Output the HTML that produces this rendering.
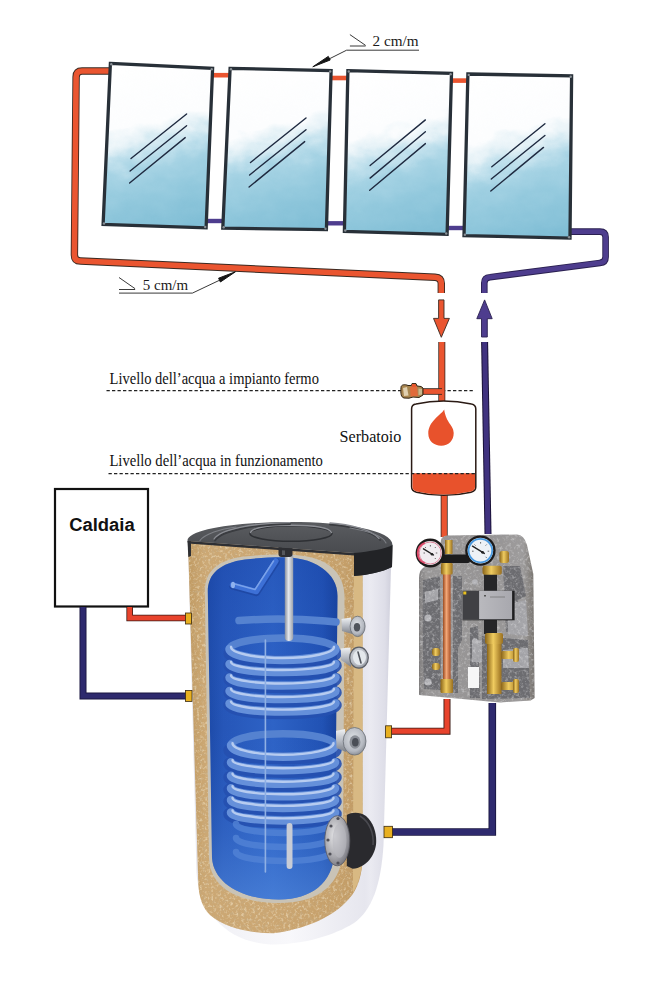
<!DOCTYPE html>
<html><head><meta charset="utf-8"><title>Impianto solare</title>
<style>
html,body{margin:0;padding:0;background:#fff;width:647px;height:1000px;overflow:hidden}
svg{display:block}
text{font-family:"Liberation Serif",serif}
</style></head>
<body>
<svg width="647" height="1000" viewBox="0 0 647 1000">
<defs>
  <linearGradient id="glass" x1="0.5" y1="0" x2="0.683" y2="0.965">
    <stop offset="0" stop-color="#ffffff"/>
    <stop offset="0.36" stop-color="#fcfdfe"/>
    <stop offset="0.44" stop-color="#e6f2f7"/>
    <stop offset="0.52" stop-color="#c2e1ed"/>
    <stop offset="0.6" stop-color="#a6d3e4"/>
    <stop offset="0.75" stop-color="#93c9dd"/>
    <stop offset="1" stop-color="#7dbcd4"/>
  </linearGradient>
</defs>
<rect width="647" height="1000" fill="#fff"/>

<!-- ===== COLLECTOR LOOP PIPES ===== -->
<g fill="none" stroke-linecap="butt" stroke-linejoin="round">
  <!-- orange supply loop -->
  <path d="M110,71 L82,71 Q76.2,71 76.1,77 L74.4,255 Q74.4,261 80.5,261 L435,277.2 Q441.3,277.5 441.3,283.5 L441.3,293" stroke="#3a2a22" stroke-width="7.4"/>
  <path d="M110,71 L82,71 Q76.2,71 76.1,77 L74.4,255 Q74.4,261 80.5,261 L435,277.2 Q441.3,277.5 441.3,283.5 L441.3,293" stroke="#ea5530" stroke-width="5.6"/>
  <!-- purple return -->
  <path d="M570,231.6 L600,231.6 Q605.6,231.6 605.6,237 L605.6,257 Q605.6,262.5 600,262.9 L490,277.2 Q484.3,277.6 484.3,283 L484.3,293" stroke="#2a2050" stroke-width="6.6"/>
  <path d="M570,231.6 L600,231.6 Q605.6,231.6 605.6,237 L605.6,257 Q605.6,262.5 600,262.9 L490,277.2 Q484.3,277.6 484.3,283 L484.3,293" stroke="#4e3d8e" stroke-width="4.8"/>
  <!-- panel connectors -->
  <g stroke="#ea5530" stroke-width="4.6">
    <path d="M212,75.2 L231,75.2"/><path d="M330,78 L350,78"/><path d="M451,80.6 L469,80.6"/>
  </g>
  <g stroke="#4e3d8e" stroke-width="4.4">
    <path d="M205,221 L224,221"/><path d="M326,223.3 L345,223.3"/><path d="M446,228 L465,228"/>
  </g>
</g>

<!-- ===== COLLECTOR PANELS ===== -->
<defs>
  <filter id="cloud" x="-10%" y="-10%" width="120%" height="120%">
    <feTurbulence type="fractalNoise" baseFrequency="0.045 0.07" numOctaves="3" seed="5" result="t"/>
    <feDisplacementMap in="SourceGraphic" in2="t" scale="22" xChannelSelector="R" yChannelSelector="G"/>
  </filter>
  <clipPath id="cp0"><path d="M110.4,63.4 L212.6,68.4 L206.1,227.9 L103.1,224.4 Z"/></clipPath>
  <clipPath id="cp1"><path d="M230.1,68.4 L331.1,70.6 L326.4,229.7 L222.8,228.2 Z"/></clipPath>
  <clipPath id="cp2"><path d="M347.9,70.6 L451.5,73.4 L447.1,234.4 L344.4,231.4 Z"/></clipPath>
  <clipPath id="cp3"><path d="M467.9,74.0 L571.6,75.9 L570.0,238.1 L464.0,235.6 Z"/></clipPath>
</defs>
<g id="panels">
<g clip-path="url(#cp0)"><rect x="88.1" y="48.4" width="139.5" height="194.5" fill="url(#glass)" filter="url(#cloud)"/></g>
<g clip-path="url(#cp1)"><rect x="207.8" y="53.4" width="138.3" height="191.3" fill="url(#glass)" filter="url(#cloud)"/></g>
<g clip-path="url(#cp2)"><rect x="329.4" y="55.6" width="137.1" height="193.8" fill="url(#glass)" filter="url(#cloud)"/></g>
<g clip-path="url(#cp3)"><rect x="449.0" y="59.0" width="137.6" height="194.1" fill="url(#glass)" filter="url(#cloud)"/></g>
</g>
<g stroke="#283038" stroke-width="3.3" stroke-linejoin="miter" fill="none">
  <path d="M110.4,63.4 L212.6,68.4 L206.1,227.9 L103.1,224.4 Z"/>
  <path d="M230.1,68.4 L331.1,70.6 L326.4,229.7 L222.8,228.2 Z"/>
  <path d="M347.9,70.6 L451.5,73.4 L447.1,234.4 L344.4,231.4 Z"/>
  <path d="M467.9,74.0 L571.6,75.9 L570.0,238.1 L464.0,235.6 Z"/>
</g>
<g fill="#8a9096"><circle cx="111.3" cy="64.3" r="1.2"/><circle cx="211.7" cy="69.3" r="1.2"/><circle cx="205.2" cy="227.0" r="1.2"/><circle cx="104.0" cy="223.5" r="1.2"/><circle cx="231.0" cy="69.3" r="1.2"/><circle cx="330.2" cy="71.5" r="1.2"/><circle cx="325.5" cy="228.8" r="1.2"/><circle cx="223.7" cy="227.3" r="1.2"/><circle cx="348.8" cy="71.5" r="1.2"/><circle cx="450.6" cy="74.3" r="1.2"/><circle cx="446.2" cy="233.5" r="1.2"/><circle cx="345.3" cy="230.5" r="1.2"/><circle cx="468.8" cy="74.9" r="1.2"/><circle cx="570.7" cy="76.8" r="1.2"/><circle cx="569.1" cy="237.2" r="1.2"/><circle cx="464.9" cy="234.7" r="1.2"/></g>
<g stroke="#1f2a40" stroke-width="1.4" stroke-linecap="round">
  <path d="M131,158.5 L186.6,114 M130.1,171 L186.6,125.7 M129.6,183 L185.2,137.6"/>
  <path d="M250.5,162.5 L306,118 M249.6,175 L306,129.7 M249.1,187 L304.7,141.6"/>
  <path d="M370.1,165.5 L425.4,119.9 M370.1,178.1 L425.4,131.7 M369.7,190.2 L425.4,143.6"/>
  <path d="M491.8,166.8 L544.9,123.8 M491.3,179 L544.9,135.5 M490.8,191 L543.5,147.4"/>
</g>

<!-- ===== SLOPE LABELS ===== -->
<g stroke="#222" stroke-width="0.9" fill="none">
  <path d="M349.9,34.6 L365.6,45.4 M349.9,46 L365.6,46"/>
  <path d="M346.6,50.2 L419,50.2"/>
  <path d="M346.6,50.2 L328,59.5"/>
  <path d="M119,277.5 L135.1,288.7 M119,289.5 L135.1,289.5"/>
  <path d="M119,293.1 L192.4,293.1 L220,280"/>
</g>
<path d="M312.8,66.8 L328.3,56.4 L330.2,60 Z" fill="#151515" stroke="#151515" stroke-width="1" stroke-linejoin="round"/>
<path d="M235.4,271.8 L218.6,278.2 L220.4,282 Z" fill="#151515" stroke="#151515" stroke-width="1" stroke-linejoin="round"/>
<text x="372.6" y="45.7" font-size="15.5" fill="#1a1a1a" textLength="46" lengthAdjust="spacingAndGlyphs">2 cm/m</text>
<text x="142.8" y="289.7" font-size="15" fill="#1a1a1a" textLength="45.3" lengthAdjust="spacingAndGlyphs">5 cm/m</text>

<!-- ===== FLOW ARROWS ===== -->
<g stroke="#3a2a22" stroke-width="0.9" stroke-linejoin="round">
  <path d="M438.6,299.9 L444,299.9 L444,318.4 L449.4,318.4 L441.3,337.3 L433.5,318.4 L438.6,318.4 Z" fill="#ea5530"/>
  <path d="M484.6,299.9 L492.2,318.7 L487.3,318.7 L487.3,337 L481.5,337 L481.5,318.7 L476.8,318.7 Z" fill="#4e3d8e" stroke="#2a2050"/>
</g>

<g stroke="#222" stroke-width="1.4" stroke-dasharray="3.3,2.2" fill="none">
  <path d="M106.5,390.6 L475,390.6"/>
</g>
<!-- ===== VERTICAL PIPES TO SERBATOIO / PUMP ===== -->
<g fill="none">
  <path d="M441.8,342 L441.8,402 M444.2,494 L444.2,537" stroke="#3a2a22" stroke-width="7"/>
  <path d="M441.8,342 L441.8,402 M444.2,494 L444.2,537" stroke="#ea5530" stroke-width="5.4"/>
  <path d="M484.6,342 L488,534" stroke="#1a1238" stroke-width="7"/>
  <path d="M484.6,342 L488,534" stroke="#40327f" stroke-width="5"/>
  <!-- side branch to valve -->
  <path d="M420,391.5 L442,391.5" stroke="#3a2a22" stroke-width="6.6"/>
  <path d="M420,391.5 L442,391.5" stroke="#ea5530" stroke-width="4.8"/>
</g>
<!-- valve fitting -->
<g>
  <path d="M401,387.5 C401,384.5 405,384 408,385.5 L411.5,385.5 L412,383.6 L416,383.6 L417,386 L421,386.5 L423,388 L423,395 L419,397.5 L413,397 L409,398.2 L404,398 C401,397 400.5,394 401,387.5 Z" fill="#a88650" stroke="#2e2010" stroke-width="1"/>
  <path d="M403,388 L407,387 L408.5,395.5 L404,396 Z" fill="#e0d0b0"/>
  <path d="M410,387 L417,386.5 L418,396 L410.5,396.5 Z" fill="#e06a3a"/>
  <path d="M412,384 L415.5,384 L416.5,387 L411.5,387 Z" fill="#e8552c"/>
  <path d="M418.5,388.5 L422,389 L422,394.5 L418.5,395 Z" fill="#c8b890"/>
</g>
<!-- ===== LEVEL TEXT + DASHED LINES ===== -->
<g fill="#111" font-size="16.5">
  <text x="109.6" y="384" textLength="209.3" lengthAdjust="spacingAndGlyphs">Livello dell’acqua a impianto fermo</text>
  <text x="109.4" y="466" textLength="213.5" lengthAdjust="spacingAndGlyphs">Livello dell’acqua in funzionamento</text>
  <text x="339.6" y="442.3" textLength="61.8" lengthAdjust="spacingAndGlyphs">Serbatoio</text>
</g>

<!-- ===== SERBATOIO (expansion tank) ===== -->
<g>
  <path d="M411.6,409 Q411.6,404.6 416,404 Q443.5,398 471.5,404 Q475.8,404.8 475.8,409 L475.8,487 Q475.8,491 471,492.2 Q443.5,498.5 416.5,492.2 Q411.6,491 411.6,487 Z" fill="#fff" stroke="#2a1a14" stroke-width="1.5"/>
  <path d="M412.5,473.2 L475,473.2 L475,487 Q475,490.4 470.8,491.4 Q443.5,497.6 416.7,491.4 Q412.5,490.4 412.5,487 Z" fill="#e8522c"/>
  <path d="M444.2,409.4 C441,415 428.3,421 428.3,433.5 C428.3,441 434,445.7 441.2,445.7 C448.6,445.7 453.7,440.5 453.7,433 C453.7,425 446,423 444.2,409.4 Z" fill="#e8522c"/>
</g>
<g stroke="#222" stroke-width="1.4" stroke-dasharray="3.3,2.2" fill="none">
  <path d="M108.5,473.6 L476,473.6"/>
</g>

<!-- ===== STORAGE TANK ===== -->
<defs>
  <linearGradient id="shell" x1="188" y1="0" x2="391" y2="0" gradientUnits="userSpaceOnUse">
    <stop offset="0" stop-color="#dcdce4"/>
    <stop offset="0.08" stop-color="#f0f0f5"/>
    <stop offset="0.5" stop-color="#f8f8fb"/>
    <stop offset="0.87" stop-color="#e6e6ee"/>
    <stop offset="0.9" stop-color="#eaeaf1"/>
    <stop offset="0.97" stop-color="#dedee8"/>
    <stop offset="1" stop-color="#d0d0dc"/>
  </linearGradient>
  <linearGradient id="blue" x1="208" y1="0" x2="338" y2="0" gradientUnits="userSpaceOnUse">
    <stop offset="0" stop-color="#1d4aa8"/>
    <stop offset="0.12" stop-color="#2656b8"/>
    <stop offset="0.5" stop-color="#2e63c6"/>
    <stop offset="0.88" stop-color="#2152b4"/>
    <stop offset="1" stop-color="#17409a"/>
  </linearGradient>
  <linearGradient id="bluev" x1="0" y1="558" x2="0" y2="900" gradientUnits="userSpaceOnUse">
    <stop offset="0" stop-color="#1a44a8" stop-opacity="0.35"/>
    <stop offset="0.5" stop-color="#2a60c8" stop-opacity="0"/>
    <stop offset="0.8" stop-color="#4a84dc" stop-opacity="0.25"/>
    <stop offset="1" stop-color="#5a92e2" stop-opacity="0.55"/>
  </linearGradient>
  <linearGradient id="tan" x1="188" y1="0" x2="362" y2="0" gradientUnits="userSpaceOnUse">
    <stop offset="0" stop-color="#c09a62"/>
    <stop offset="0.1" stop-color="#cca874"/>
    <stop offset="0.5" stop-color="#cba672"/>
    <stop offset="0.85" stop-color="#c6a06a"/>
    <stop offset="1" stop-color="#c09a64"/>
  </linearGradient>
  <filter id="speck" x="0" y="0" width="100%" height="100%">
    <feTurbulence type="fractalNoise" baseFrequency="0.32" numOctaves="3" seed="4" result="n"/>
    <feColorMatrix in="n" type="matrix" values="0 0 0 0 0.55  0 0 0 0 0.42  0 0 0 0 0.25  3.2 0 0 0 -1.6" result="c"/>
    <feComposite in="c" in2="SourceGraphic" operator="in"/>
  </filter>
  <filter id="speck2" x="0" y="0" width="100%" height="100%">
    <feTurbulence type="fractalNoise" baseFrequency="0.36" numOctaves="3" seed="9" result="n"/>
    <feColorMatrix in="n" type="matrix" values="0 0 0 0 0.92  0 0 0 0 0.82  0 0 0 0 0.62  3.2 0 0 0 -1.6" result="c"/>
    <feComposite in="c" in2="SourceGraphic" operator="in"/>
  </filter>
  <filter id="speckg" x="0" y="0" width="100%" height="100%">
    <feTurbulence type="fractalNoise" baseFrequency="0.3" numOctaves="3" seed="2" result="n"/>
    <feColorMatrix in="n" type="matrix" values="0 0 0 0 0.3  0 0 0 0 0.3  0 0 0 0 0.32  3 0 0 0 -1.5" result="c"/>
    <feComposite in="c" in2="SourceGraphic" operator="in"/>
  </filter>
  <filter id="speckw" x="0" y="0" width="100%" height="100%">
    <feTurbulence type="fractalNoise" baseFrequency="0.34" numOctaves="3" seed="7" result="n"/>
    <feColorMatrix in="n" type="matrix" values="0 0 0 0 0.85  0 0 0 0 0.85  0 0 0 0 0.86  3 0 0 0 -1.5" result="c"/>
    <feComposite in="c" in2="SourceGraphic" operator="in"/>
  </filter>
  <linearGradient id="rod" x1="0" y1="0" x2="1" y2="0">
    <stop offset="0" stop-color="#8a909c"/>
    <stop offset="0.45" stop-color="#e4e8ee"/>
    <stop offset="1" stop-color="#9aa0aa"/>
  </linearGradient>
  <linearGradient id="lid" x1="0" y1="0" x2="0" y2="1">
    <stop offset="0" stop-color="#5a5c60"/>
    <stop offset="1" stop-color="#3c3e42"/>
  </linearGradient>
  <radialGradient id="fit" cx="0.4" cy="0.4" r="0.7">
    <stop offset="0" stop-color="#e8e8ea"/>
    <stop offset="0.6" stop-color="#a8a8ae"/>
    <stop offset="1" stop-color="#6a6a72"/>
  </radialGradient>
  <linearGradient id="copper" x1="0" y1="0" x2="1" y2="0">
    <stop offset="0" stop-color="#9a4a20"/>
    <stop offset="0.45" stop-color="#f4a878"/>
    <stop offset="1" stop-color="#a85028"/>
  </linearGradient>
  <linearGradient id="brass" x1="0" y1="0" x2="1" y2="0">
    <stop offset="0" stop-color="#8a6418"/>
    <stop offset="0.45" stop-color="#f0cc60"/>
    <stop offset="1" stop-color="#9a7020"/>
  </linearGradient>
</defs>
<g id="tank">
  <!-- outer shell -->
  <path d="M188,541 L196.5,872 C198,905 220,933 250,941 C262,944 268,944.5 275,944.5 C305,944 335,935 354,923 C372,910 381,885 383.5,845 L391.5,548 Z" fill="url(#shell)"/>
  <!-- foam cut face -->
  <path d="M188,541 L354,553 L362.5,576 L362.5,862 C361,880 356,893 345,903 C330,918 305,929 273.4,933.3 C250,933 225,928 210,915 C203,908 199,898 198.3,884 Z" fill="url(#tan)"/>
  <path d="M188,541 L354,553 L362.5,576 L362.5,862 C361,880 356,893 345,903 C330,918 305,929 273.4,933.3 C250,933 225,928 210,915 C203,908 199,898 198.3,884 Z" fill="#000" filter="url(#speck)" opacity="0.55"/>
  <path d="M188,541 L354,553 L362.5,576 L362.5,862 C361,880 356,893 345,903 C330,918 305,929 273.4,933.3 C250,933 225,928 210,915 C203,908 199,898 198.3,884 Z" fill="#000" filter="url(#speck2)" opacity="0.5"/>
  <path d="M354,556 L362.5,576 L362.5,862 C361,874 358,884 353,893 L353,870 Z" fill="#d8b983"/>
  <!-- inner steel wall -->
  <path d="M204.8,592 C204.6,571 218,560 244,556.6 C258,555 270,554.6 282,554.6 C300,554.6 318,557 330,566 C341,574 344.5,586 344.5,598 L343,850 C341,890 312,903 280,903 C242,903 210,890 209,858 Z" fill="#c9c3b6"/>
  <!-- blue interior -->
  <path d="M207.8,592 C207.6,574 220,563 245,559.6 C258,558 270,557.3 282,557.3 C296,557.3 310,559.5 322,568 C332,575 337.5,584 337.5,596 L335,850 C333,885 310,899 280,899.5 C245,900 214,885 212,858 Z" fill="url(#blue)"/>
  <path d="M207.8,592 C207.6,574 220,563 245,559.6 C258,558 270,557.3 282,557.3 C296,557.3 310,559.5 322,568 C332,575 337.5,584 337.5,596 L335,850 C333,885 310,899 280,899.5 C245,900 214,885 212,858 Z" fill="url(#bluev)"/>
  <!-- coils -->
  <g fill="none" stroke-linecap="round">
    <g stroke="#2550b0" stroke-width="12.5" opacity="0.9">
      <path d="M229.5,653.5 A53.0,8.0 0 0 0 335.5,653.5"/>
      <path d="M229.5,665.5 A53.0,8.0 0 0 0 335.5,665.5"/>
      <path d="M229.5,679.0 A53.0,8.0 0 0 0 335.5,679.0"/>
      <path d="M229.5,692.5 A53.0,8.0 0 0 0 335.5,692.5"/>
      <path d="M229.5,705.1 A53.0,8.0 0 0 0 335.5,705.1"/>
      <path d="M229.5,750.2 A53.0,8.0 0 0 0 335.5,750.2"/>
      <path d="M229.5,763.7 A53.0,8.0 0 0 0 335.5,763.7"/>
      <path d="M229.5,777.2 A53.0,8.0 0 0 0 335.5,777.2"/>
      <path d="M229.5,789.8 A53.0,8.0 0 0 0 335.5,789.8"/>
      <path d="M229.5,801.4 A53.0,8.0 0 0 0 335.5,801.4"/>
      <path d="M229.5,813.9 A53.0,8.0 0 0 0 335.5,813.9"/>
    </g>
    <g stroke="#5582d0" stroke-width="7.5">
      <path d="M239,620.6 C270,618 310,619 336,622"/>
      <path d="M229.5,649.0 A53.0,11.0 0 0 1 335.5,649.0"/>
      <path d="M231,745.2 A52.0,11.5 0 0 1 335,745.2"/>
    </g>
    <g stroke="#6590da" stroke-width="8.5">
      <path d="M229.5,649.0 A53.0,11.0 0 0 0 335.5,649.0"/>
      <path d="M229.5,664.0 A53.0,8.0 0 0 0 335.5,664.0"/>
      <path d="M229.5,677.5 A53.0,8.0 0 0 0 335.5,677.5"/>
      <path d="M229.5,691.0 A53.0,8.0 0 0 0 335.5,691.0"/>
      <path d="M229.5,703.6 A53.0,8.0 0 0 0 335.5,703.6"/>
      <path d="M231,745.2 A52.0,11.5 0 0 0 335,745.2"/>
      <path d="M231,762.2 A52.0,8.0 0 0 0 335,762.2"/>
      <path d="M231,775.7 A52.0,8.0 0 0 0 335,775.7"/>
      <path d="M231,788.3 A52.0,8.0 0 0 0 335,788.3"/>
      <path d="M231,799.9 A52.0,8.0 0 0 0 335,799.9"/>
      <path d="M231,812.4 A52.0,8.0 0 0 0 335,812.4"/>
    </g>
    <g stroke="#5283d6" stroke-width="6.5" opacity="0.8">
      <path d="M236,824.0 A47.5,9.0 0 0 0 331,824.0"/>
      <path d="M236,838.0 A47.5,9.0 0 0 0 331,838.0"/>
      <path d="M236,852.0 A47.5,9.0 0 0 0 331,852.0"/>
    </g>
    <g stroke="#bcd0f2" stroke-width="2.4" opacity="0.95">
      <path d="M231,647.0 A51.5,11.0 0 0 0 334,647.0"/>
      <path d="M231,662.0 A51.5,8.0 0 0 0 334,662.0"/>
      <path d="M231,675.5 A51.5,8.0 0 0 0 334,675.5"/>
      <path d="M231,689.0 A51.5,8.0 0 0 0 334,689.0"/>
      <path d="M231,701.6 A51.5,8.0 0 0 0 334,701.6"/>
      <path d="M232.5,743.2 A50.5,11.5 0 0 0 333.5,743.2"/>
      <path d="M232.5,760.2 A50.5,8.0 0 0 0 333.5,760.2"/>
      <path d="M232.5,773.7 A50.5,8.0 0 0 0 333.5,773.7"/>
      <path d="M232.5,786.3 A50.5,8.0 0 0 0 333.5,786.3"/>
      <path d="M232.5,797.9 A50.5,8.0 0 0 0 333.5,797.9"/>
      <path d="M232.5,810.4 A50.5,8.0 0 0 0 333.5,810.4"/>
    </g>
    <path d="M265.4,640 L265.4,872" stroke="#8fb0e4" stroke-width="1.6"/>
    <path d="M233,586 L256.3,592.5 L276,562" stroke="#1a3f98" stroke-width="7.5" stroke-linejoin="round" opacity="0.6"/><path d="M232.5,585 L256.3,591.5 L275.8,561" stroke="#3d70d6" stroke-width="5.6" stroke-linejoin="round"/>
    <path d="M233,583.5 L255,589.5 L273.5,561" stroke="#7aa2ea" stroke-width="1.6" stroke-linejoin="round"/><ellipse cx="233" cy="585" rx="2" ry="3.2" fill="#8fb2ee"/>
  </g>
  <!-- anode rods -->
  <rect x="284.8" y="553" width="8.4" height="88" rx="4" fill="url(#rod)"/>
  <rect x="278.5" y="544" width="14" height="13" rx="3" fill="#2e2e32"/><rect x="282" y="546" width="3" height="9" fill="#55575c"/>
  <rect x="286.6" y="823" width="5.9" height="46" rx="2.9" fill="#c8ccd6"/>
  <!-- lid -->
  <path d="M187.5,541 C187,529 240,522 290,522 C345,522 392.5,530 392.5,545 L392,567 C382,572 368,575 354,576 L354,553 Z" fill="url(#lid)"/>
  <path d="M354,553 C370,551.5 385,549 392.5,545 L392,567 C382,572 368,575 354,576 Z" fill="#222326"/>
  <path d="M187.5,541 L354,553 L354,555.5 L188,543.5 Z" fill="#2e2f33"/><path d="M187.5,541 L191,541.3 L191,556 L188.3,557 Z" fill="#2e2f33"/>
  <g fill="none" stroke-linecap="round">
    <ellipse cx="291" cy="533.5" rx="41" ry="7.8" stroke="#2e3034" stroke-width="1.6"/>
    <path d="M250.5,532.5 C253,527 272,525.2 291,525.2 C310,525.2 329,527 331.5,532.5" stroke="#8e9096" stroke-width="1.5"/>
    <path d="M215,540.5 C222,530 255,524.5 290,524 M330,524.5 C350,526 372,531 380,540" stroke="#3a3c40" stroke-width="1.8"/>
    <path d="M214,539 C221,529 254,523 290,522.6 M330,523 C350,524.5 371,529.5 379,538.5" stroke="#8a8c92" stroke-width="1.3"/>
    <path d="M200,540.5 C205,534 220,529 236,527" stroke="#7e8086" stroke-width="1.1"/>
    <path d="M350,528 C368,531 383,536 386,543" stroke="#7e8086" stroke-width="1.1"/>
  </g>
  <!-- side fittings -->
  <defs>
    <linearGradient id="tube" x1="0" y1="0" x2="0" y2="1">
      <stop offset="0" stop-color="#f0f2f4"/><stop offset="0.5" stop-color="#b8bcc4"/><stop offset="1" stop-color="#7c8088"/>
    </linearGradient>
    <radialGradient id="disc" cx="0.45" cy="0.4" r="0.65">
      <stop offset="0" stop-color="#dfe2e6"/><stop offset="0.7" stop-color="#b4b8c0"/><stop offset="1" stop-color="#80848c"/>
    </radialGradient>
  </defs>
  <g>
    <path d="M341.5,619 L351,617.5 L352,634 L342,631 Z" fill="url(#tube)"/>
    <ellipse cx="357.6" cy="626.4" rx="7.5" ry="10.2" fill="url(#disc)" stroke="#6a6e76" stroke-width="0.8"/>
    <ellipse cx="357" cy="627.3" rx="3.2" ry="4.2" fill="#50545c"/>
    <path d="M340.8,648.4 L350.4,647.5 L351,667 L341,660 Z" fill="url(#tube)"/>
    <ellipse cx="359" cy="657.7" rx="9.3" ry="10.5" fill="url(#disc)" stroke="#5a5e66" stroke-width="1.2"/>
    <ellipse cx="359.5" cy="657.5" rx="6.5" ry="7.5" fill="#e4e8ec"/>
    <path d="M358,652 L361,663" stroke="#50545c" stroke-width="1.6" stroke-linecap="round"/>
    <path d="M336,731 L345,729 L346,752 L336.5,748 Z" fill="url(#tube)"/>
    <ellipse cx="354.6" cy="741.3" rx="11.4" ry="13.8" fill="url(#disc)" stroke="#6a6e76" stroke-width="0.8"/>
    <ellipse cx="355" cy="742" rx="5.5" ry="6.8" fill="#8a8e96"/>
    <ellipse cx="355.3" cy="742.3" rx="3.3" ry="4.3" fill="#4a4e56"/>
  </g>
  <!-- bottom flange + cover -->
  <path d="M346.8,815 C352,812 360,812 366,816 C373,822 376.5,832 376.2,842 C375.8,855 366,868 352.7,868.7 L346.8,866 Z" fill="#2a2a2e"/>
  <path d="M360,816 C370,822 374,834 373,845" fill="none" stroke="#4a4a50" stroke-width="1.5"/>
  <ellipse cx="337.3" cy="840.8" rx="12.5" ry="25" fill="url(#fit)" stroke="#5a5a62" stroke-width="0.8"/>
  <ellipse cx="339.5" cy="840.8" rx="7" ry="17" fill="#b8b8be" opacity="0.6"/>
  <g fill="#505058">
    <circle cx="331" cy="826" r="1.6"/><circle cx="328" cy="840" r="1.6"/><circle cx="330" cy="854" r="1.6"/><circle cx="338" cy="863" r="1.6"/><circle cx="338" cy="818.5" r="1.6"/>
  </g>
</g>

<!-- ===== PUMP GROUP ===== -->
<defs>
  <linearGradient id="foam" x1="0" y1="0" x2="1" y2="0">
    <stop offset="0" stop-color="#7e7c7c"/>
    <stop offset="0.06" stop-color="#9a9898"/>
    <stop offset="0.6" stop-color="#969494"/>
    <stop offset="0.9" stop-color="#9e9c9c"/>
    <stop offset="0.96" stop-color="#86827e"/>
    <stop offset="1" stop-color="#76726e"/>
  </linearGradient>
  <linearGradient id="pumpbox" x1="0" y1="0" x2="1" y2="0">
    <stop offset="0" stop-color="#c2c2c6"/>
    <stop offset="1" stop-color="#a8a8ae"/>
  </linearGradient>
</defs>
<g id="pump">
  <path d="M419,578 Q419,569 426,566 L438,562 L441,540 Q442,535.5 448,535.5 L517,534.5 Q524,534.5 527,545 L533.3,574 L534.6,698 L530.6,700.4 L500,702.5 L419,695 Z" fill="url(#foam)"/>
  <!-- recesses / ridges -->
  <g fill="#6c6c70">
    <path d="M423,580 L440,576 L441,690 L424,689 Q422,640 423,580 Z"/>
    <path d="M453,576 L462,576 L462,640 L458,648 L458,693 L453,693 Z"/>
    <path d="M470,628 L478,626 L480,698 L470,698 Z"/>
    <path d="M503,566 L520,566 L526,596 L518,600 L518,630 L506,632 Z"/>
    <path d="M482,636 L528,640 L530,698 L482,699 Z"/>
  </g>
  <g fill="#a6a6aa">
    <path d="M425,592 L438,589 L438,600 L425,603 Z"/>
    <path d="M508,604 L526,600 L528,636 L508,634 Z"/>
    <path d="M503,650 L528,648 L529,668 L503,668 Z"/>
    <path d="M472,640 L482,640 L482,662 L472,662 Z"/>
  </g>
  <g fill="#b4b4b8">
    <circle cx="428" cy="618" r="3.6"/><circle cx="428" cy="682" r="3.6"/><circle cx="475" cy="582" r="2.8"/><circle cx="475" cy="641" r="2.8"/>
  </g>
  <path d="M419,578 Q419,569 426,566 L438,562 L441,540 Q442,535.5 448,535.5 L517,534.5 Q524,534.5 527,545 L533.3,574 L534.6,698 L530.6,700.4 L500,702.5 L419,695 Z" fill="#000" filter="url(#speckg)" opacity="0.45"/>
  <path d="M419,578 Q419,569 426,566 L438,562 L441,540 Q442,535.5 448,535.5 L517,534.5 Q524,534.5 527,545 L533.3,574 L534.6,698 L530.6,700.4 L500,702.5 L419,695 Z" fill="#000" filter="url(#speckw)" opacity="0.4"/>
  <!-- copper pipe -->
  <rect x="443" y="572" width="7.6" height="110" fill="url(#copper)"/>
  <rect x="440.5" y="679" width="12.5" height="14" rx="1" fill="url(#brass)"/>
  <rect x="441" y="562.8" width="11.6" height="11.6" rx="1.5" fill="url(#brass)"/>
  <rect x="445" y="540" width="7.5" height="14" fill="url(#brass)"/>
  <!-- black connector between gauges -->
  <rect x="440" y="554.5" width="30" height="8.5" rx="2" fill="#1c1c1e"/>
  <!-- right branch -->
  <rect x="484" y="574" width="13" height="18" fill="#262628"/>
  <rect x="484" y="619" width="13" height="15" fill="#262628"/>
  <rect x="482.5" y="565.7" width="19.3" height="9" rx="2" fill="url(#brass)"/>
  <rect x="499.5" y="551" width="9.5" height="12" rx="2.5" fill="url(#brass)"/>
  <rect x="485" y="633" width="18" height="11" rx="2" fill="url(#brass)"/>
  <rect x="487" y="644" width="14.5" height="50" fill="url(#brass)"/>
  <rect x="501" y="651" width="17" height="8" rx="1.5" fill="url(#brass)"/>
  <rect x="501" y="682" width="17" height="8" rx="1.5" fill="url(#brass)"/>
  <rect x="513" y="648" width="6" height="14" rx="2" fill="url(#brass)"/>
  <rect x="513" y="679" width="6" height="14" rx="2" fill="url(#brass)"/>
  <rect x="432" y="648" width="8" height="8" rx="3" fill="url(#brass)"/>
  <rect x="432" y="663" width="8" height="7" rx="3" fill="url(#brass)"/>
  <rect x="468" y="667" width="11" height="21" fill="#f6f6f6"/>
  <!-- pump -->
  <rect x="462.6" y="590.8" width="52" height="29.5" fill="#1e1e20"/><rect x="462.6" y="590.8" width="49.5" height="28.5" fill="url(#pumpbox)"/>
  <rect x="462.6" y="590.8" width="16.5" height="28.5" fill="#404044"/>
  <rect x="463.3" y="591.5" width="3" height="3" fill="#e8c020"/>
  <rect x="484" y="595" width="2" height="1.5" fill="#555"/>
  <path d="M490,597 L505,597" stroke="#777" stroke-width="0.8"/>
  <!-- gauges -->
  <circle cx="430.2" cy="553" r="14.6" fill="#1c1a1a"/>
  <circle cx="430.2" cy="553" r="11.9" fill="#f0ecf0"/>
  <path d="M425,542.8 A10.8,10.8 0 0 0 425,563.2" fill="none" stroke="#e04868" stroke-width="1.8"/><circle cx="430.2" cy="553" r="11" fill="none" stroke="#d86a84" stroke-width="0.8"/>
  <g stroke="#333" stroke-width="0.7"><path d="M423.5,553 L425,553 M425,547 L426,548 M430.4,545 L430.4,546.5 M435.8,547 L434.8,548 M437.3,553 L435.8,553 M435.8,559 L434.8,558"/></g><path d="M423.5,548.8 L433.5,555" stroke="#222" stroke-width="1.4" stroke-linecap="round"/><circle cx="432" cy="554.2" r="1.3" fill="#222"/>
  <circle cx="480.4" cy="550.6" r="15.2" fill="#1c1a1a"/>
  <circle cx="480.4" cy="550.6" r="12.8" fill="#eef2f6"/>
  <circle cx="480.4" cy="550.6" r="11.8" fill="none" stroke="#4a9ae0" stroke-width="1.8"/>
  <g stroke="#333" stroke-width="0.7"><path d="M472,551.2 L473.6,551.2 M474.5,544.5 L475.6,545.6 M480.6,542 L480.6,543.6 M486.7,544.5 L485.6,545.6 M489.2,551.2 L487.6,551.2 M486.7,557.9 L485.6,556.8"/></g><path d="M472.5,546.2 L484.3,553.4" stroke="#222" stroke-width="1.4" stroke-linecap="round"/><circle cx="482.5" cy="552.3" r="1.4" fill="#222"/>
</g>

<!-- ===== CALDAIA ===== -->
<rect x="55" y="489" width="93" height="117.5" fill="#fff" stroke="#111" stroke-width="2.2"/>
<text x="69.2" y="530.6" font-family="Liberation Sans, sans-serif" font-weight="bold" font-size="18" fill="#111" textLength="65.5" lengthAdjust="spacingAndGlyphs" style="font-family:'Liberation Sans',sans-serif">Caldaia</text>
<g fill="none">
  <path d="M83,607 L83,696 L187,696" stroke="#1a1640" stroke-width="7"/>
  <path d="M83,607 L83,696 L187,696" stroke="#2e2a6e" stroke-width="5.2"/>
  <path d="M129.7,607 L129.7,618 L187,618" stroke="#3a1a14" stroke-width="6.6"/>
  <path d="M129.7,607 L129.7,618 L187,618" stroke="#e8432c" stroke-width="5"/>
  <!-- tank right pipes -->
  <path d="M391,731.2 L447,731.2 L447,699" stroke="#3a1a14" stroke-width="7"/>
  <path d="M391,731.2 L447,731.2 L447,699" stroke="#e8432c" stroke-width="5.2"/>
  <path d="M392,832 L492.3,832 L492.3,703" stroke="#1a1640" stroke-width="7.6"/>
  <path d="M392,832 L492.3,832 L492.3,703" stroke="#2e2a6e" stroke-width="5.8"/>
</g>
<g fill="#e8b020" stroke="#3a2a10" stroke-width="0.8">
  <rect x="185.5" y="613" width="6" height="11"/>
  <rect x="185.5" y="690.4" width="6.5" height="11"/>
  <rect x="385.6" y="725.8" width="6" height="12"/>
  <rect x="384" y="826.3" width="8.5" height="11.4"/>
</g>

</svg>
</body></html>
